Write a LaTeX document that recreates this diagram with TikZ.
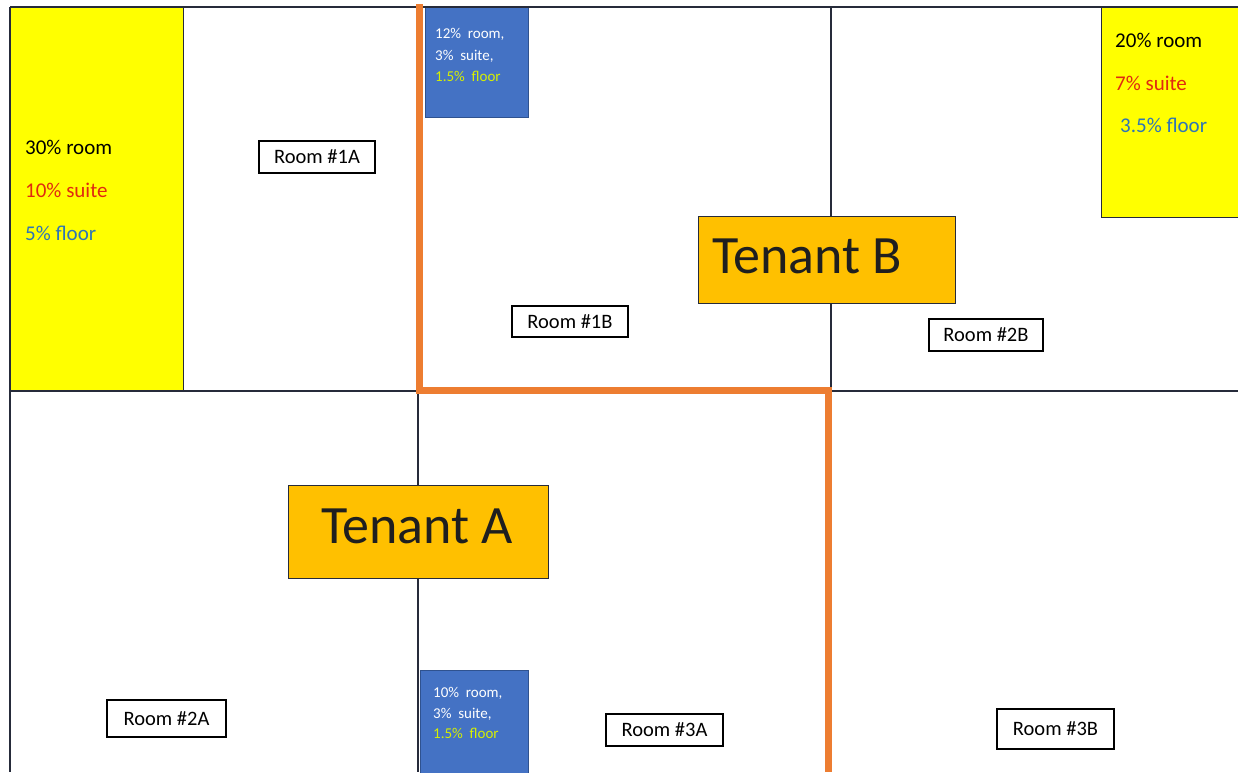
\documentclass[tikz,border=0pt]{standalone}
\usepackage{fontspec}
\setmainfont{Carlito}
\definecolor{ylw}{HTML}{FFFF00}
\definecolor{gold}{HTML}{FFC000}
\definecolor{bluebox}{HTML}{4472C4}
\definecolor{bluedark}{HTML}{2F528F}
\definecolor{orng}{HTML}{ED7D31}
\definecolor{redtxt}{HTML}{E02A10}
\definecolor{bluetxt}{HTML}{2E75B6}
\definecolor{limetxt}{HTML}{D6F000}
\definecolor{edge}{HTML}{262B3A}
\tikzset{
  wall/.style={draw=edge, line width=1.4pt},
  tenantwall/.style={draw=orng, line width=7pt},
  roombox/.style={draw=black, line width=1.2pt, fill=white, inner sep=0pt, font=\fontsize{20.5}{24}\selectfont},
  pct/.style={anchor=base west, inner sep=0pt, font=\fontsize{21}{24}\selectfont},
  smalltxt/.style={anchor=base west, inner sep=0pt, font=\fontsize{15}{18}\selectfont, text=white},
  tenantbox/.style={draw=edge, line width=1.2pt, fill=gold, inner sep=0pt, anchor=north west},
  tenanttext/.style={anchor=base west, inner sep=0pt, font=\fontsize{54}{64}\selectfont, text=black!88},
  ybox/.style={draw=edge, line width=1pt, fill=ylw},
  bbox/.style={draw=bluedark, line width=1pt, fill=bluebox}
}
\begin{document}
\begin{tikzpicture}[x=1pt,y=-1pt]
\useasboundingbox[fill=white] (0,0) rectangle (1238,772);
% coloured panels
\filldraw[ybox] (10,7) rectangle (183,391);
\filldraw[ybox] (1101,7) rectangle (1242,217);
\filldraw[bbox] (425,7) rectangle (528,117);
\filldraw[bbox] (420,670) rectangle (528,775);
% walls
\draw[wall] (10,7) -- (1238,7);
\draw[wall] (10,7) -- (10,772);
\draw[wall] (10,391) -- (1238,391);
\draw[wall] (831,7) -- (831,391);
\draw[wall] (418,391) -- (418,772);
% tenant boundary
\draw[tenantwall, line join=miter] (419,4) -- (419,390) -- (828,390) -- (828,772);
% percentages, yellow panels
\node[pct] (y1a) at (25,154) {30\% room};
\node[pct, text=redtxt] (y1b) at (25,197) {10\% suite};
\node[pct, text=bluetxt] (y1c) at (25,240) {5\% floor};
\node[pct] (y2a) at (1115,47) {20\% room};
\node[pct, text=redtxt] (y2b) at (1115,90) {7\% suite};
\node[pct, text=bluetxt] (y2c) at (1120,132) {3.5\% floor};
% percentages, blue panels
\node[smalltxt] (b1a) at (435,38) {12\%\ \ room,};
\node[smalltxt] (b1b) at (435,60) {3\%\ \ suite,};
\node[smalltxt, text=limetxt] (b1c) at (435,81) {1.5\%\ \ floor};
\node[smalltxt] (b2a) at (433,697) {10\%\ \ room,};
\node[smalltxt] (b2b) at (433,718) {3\%\ \ suite,};
\node[smalltxt, text=limetxt] (b2c) at (433,738) {1.5\%\ \ floor};
% tenants
\node[tenantbox, minimum width=257pt, minimum height=87pt] (tb) at (698,216) {};
\node[tenanttext] (tbt) at (712,273) {Tenant B};
\node[tenantbox, minimum width=260pt, minimum height=93pt] (ta) at (288,485) {};
\node[tenanttext] (tat) at (321,543) {Tenant A};
% rooms
\node[roombox, minimum width=116pt, minimum height=32pt] (r1a) at (317,157) {Room \#1A};
\node[roombox, minimum width=116pt, minimum height=31pt] (r1b) at (570,321.5) {Room \#1B};
\node[roombox, minimum width=114pt, minimum height=32pt] (r2b) at (986,335) {Room \#2B};
\node[roombox, minimum width=119pt, minimum height=37pt] (r2a) at (166.5,718.5) {Room \#2A};
\node[roombox, minimum width=117pt, minimum height=32pt] (r3a) at (664.5,730) {Room \#3A};
\node[roombox, minimum width=117pt, minimum height=40pt] (r3b) at (1055.5,729) {Room \#3B};
\end{tikzpicture}
\end{document}
